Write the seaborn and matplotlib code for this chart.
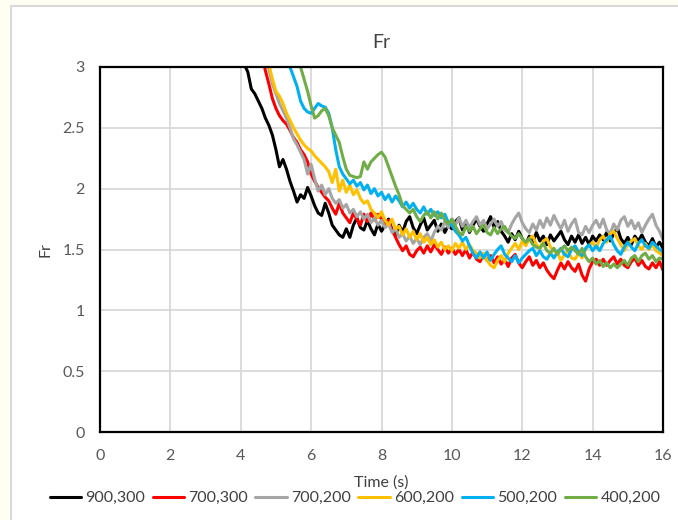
import numpy as np
import pandas as pd
import matplotlib
matplotlib.use("Agg")
import matplotlib.pyplot as plt
from matplotlib.patches import Rectangle
from matplotlib.ticker import FuncFormatter, MultipleLocator
import seaborn as sns

# Froude number histories, sampled every 0.1 s from each series' start time
STEP = 0.1

labels = ["900,300", "700,300", "700,200", "600,200", "500,200", "400,200"]
colors = ["#000000", "#FF0000", "#A5A5A5", "#FFC000", "#00B0F0", "#70AD47"]
start_times = [4.0, 4.6, 4.7, 4.7, 5.3, 5.6]

fr_900_300 = [
    3.10, 3.02, 2.96, 2.82, 2.78, 2.72, 2.66, 2.58, 2.52, 2.44,
    2.32, 2.18, 2.24, 2.16, 2.06, 1.98, 1.89, 1.95, 1.92, 2.01,
    1.94, 1.86, 1.80, 1.78, 1.88, 1.80, 1.70, 1.66, 1.62, 1.60,
    1.67, 1.60, 1.70, 1.76, 1.68,
    1.66, 1.74, 1.67, 1.62, 1.71, 1.65, 1.70, 1.75, 1.66, 1.62,
    1.70, 1.64, 1.73, 1.77, 1.68, 1.63, 1.70, 1.76, 1.66, 1.70,
    1.74, 1.65, 1.71, 1.64, 1.70, 1.67, 1.73, 1.76, 1.66, 1.72,
    1.64, 1.70, 1.75, 1.69, 1.65, 1.71, 1.77, 1.68, 1.73, 1.65,
    1.61, 1.56, 1.63, 1.58, 1.65, 1.59, 1.54, 1.61, 1.56, 1.64,
    1.57, 1.61, 1.54, 1.62, 1.57, 1.61, 1.65, 1.58, 1.54, 1.61,
    1.56, 1.62, 1.55, 1.60, 1.54, 1.61, 1.57, 1.62, 1.58, 1.64,
    1.57, 1.63, 1.68, 1.59, 1.55, 1.60, 1.54, 1.61, 1.57, 1.62,
    1.56, 1.53, 1.59, 1.52, 1.56, 1.51,
]

fr_700_300 = [
    3.10, 2.97, 2.86, 2.74, 2.66, 2.60, 2.56, 2.53, 2.48, 2.42,
    2.38, 2.32, 2.28, 2.22, 2.12, 2.06, 2.01, 1.97, 1.93, 1.90,
    1.84, 1.79, 1.88, 1.80, 1.76, 1.72, 1.80, 1.75, 1.70, 1.79,
    1.73, 1.80, 1.74, 1.79, 1.75, 1.70, 1.74,
    1.66, 1.60, 1.54, 1.49, 1.53, 1.46, 1.44, 1.49, 1.52, 1.47,
    1.53, 1.48, 1.54, 1.50, 1.46, 1.52, 1.47, 1.51, 1.46, 1.50,
    1.45, 1.50, 1.43, 1.48, 1.42, 1.40, 1.46, 1.41, 1.45, 1.39,
    1.44, 1.38, 1.42, 1.36, 1.43, 1.46, 1.39, 1.35, 1.40, 1.44,
    1.37, 1.41, 1.35, 1.39, 1.33, 1.29, 1.26, 1.33, 1.39, 1.34,
    1.40, 1.35, 1.32, 1.38, 1.29, 1.24, 1.34, 1.40, 1.42, 1.37,
    1.42, 1.37, 1.41, 1.44, 1.38, 1.42, 1.37, 1.35, 1.40, 1.43,
    1.37, 1.41, 1.36, 1.34, 1.39, 1.35, 1.40, 1.33,
]

fr_700_200 = [
    3.10, 2.98, 2.86, 2.78, 2.70, 2.64, 2.58, 2.50, 2.41, 2.36,
    2.30, 2.24, 2.12, 2.20, 2.08, 1.98, 2.03, 1.95, 2.00, 1.92,
    1.88, 1.91, 1.84, 1.87, 1.80,
    1.83, 1.77, 1.81, 1.75, 1.79, 1.72, 1.76, 1.70, 1.74, 1.68,
    1.71, 1.64, 1.67, 1.60, 1.63, 1.57, 1.61, 1.55, 1.59, 1.54,
    1.60, 1.63, 1.57, 1.64, 1.69, 1.66, 1.73, 1.68, 1.75, 1.70,
    1.76, 1.69, 1.74, 1.68, 1.73, 1.77, 1.70, 1.74, 1.67, 1.71,
    1.75, 1.69, 1.73, 1.66, 1.64, 1.71, 1.76, 1.80, 1.72, 1.67,
    1.64, 1.71, 1.66, 1.74, 1.68, 1.76, 1.70, 1.78, 1.72, 1.67,
    1.74, 1.65, 1.71, 1.75, 1.64, 1.62, 1.69, 1.64, 1.70, 1.74,
    1.68, 1.75, 1.66, 1.63, 1.71, 1.66, 1.74, 1.77, 1.69, 1.74,
    1.67, 1.72, 1.64, 1.70, 1.75, 1.79, 1.70, 1.65, 1.58,
]

fr_600_200 = [
    3.10, 3.02, 2.90, 2.80, 2.76, 2.70, 2.62, 2.56, 2.50, 2.45,
    2.40, 2.36, 2.33, 2.31, 2.27, 2.24, 2.21, 2.18, 2.14, 2.05,
    2.16, 1.98, 2.07, 1.97, 2.03, 1.95, 1.99, 1.92, 1.88, 1.90,
    1.83, 1.80, 1.76, 1.81, 1.74, 1.70, 1.75, 1.67, 1.69, 1.62,
    1.67, 1.60, 1.65, 1.58, 1.63, 1.56, 1.60, 1.54, 1.58, 1.52,
    1.56, 1.50, 1.53, 1.49, 1.55, 1.51, 1.56, 1.50, 1.54, 1.49,
    1.47, 1.43, 1.47, 1.41, 1.37, 1.35, 1.41, 1.45, 1.40, 1.47,
    1.51, 1.55, 1.50, 1.57, 1.53, 1.59, 1.61, 1.54, 1.51, 1.57,
    1.59, 1.52, 1.49, 1.47, 1.41, 1.46, 1.49, 1.43, 1.42, 1.47,
    1.43, 1.50, 1.53, 1.56, 1.51, 1.58, 1.61, 1.56, 1.63, 1.65,
    1.59, 1.54, 1.49, 1.54, 1.57, 1.59, 1.53, 1.50, 1.55, 1.50,
    1.54, 1.49, 1.47, 1.45,
]

fr_500_200 = [
    3.10, 3.00, 2.92, 2.84, 2.72, 2.66, 2.63, 2.62, 2.66, 2.70,
    2.68, 2.67, 2.62, 2.50, 2.32, 2.18, 2.12,
    2.08, 2.04, 2.07, 2.02, 2.05, 1.99, 2.03, 1.96, 2.00, 1.94,
    1.97, 1.91, 1.95, 1.89, 1.94, 1.90, 1.85, 1.89, 1.84, 1.88,
    1.83, 1.80, 1.85, 1.79, 1.83, 1.78, 1.81, 1.76, 1.79, 1.72,
    1.70, 1.65, 1.62, 1.57, 1.60, 1.53, 1.47, 1.43, 1.48, 1.43,
    1.48, 1.41, 1.46, 1.50, 1.53, 1.46, 1.43, 1.40, 1.45, 1.39,
    1.43, 1.46, 1.49, 1.51, 1.45, 1.49, 1.44, 1.42, 1.47, 1.43,
    1.48, 1.51, 1.46, 1.44, 1.50, 1.53, 1.48, 1.45, 1.51, 1.54,
    1.49, 1.53, 1.49, 1.55, 1.58, 1.61, 1.54, 1.49, 1.46, 1.52,
    1.56, 1.52, 1.49, 1.55, 1.58, 1.53, 1.51, 1.56, 1.53, 1.50,
    1.48,
]

fr_400_200 = [
    3.10, 3.00, 2.90, 2.80, 2.68, 2.58, 2.60, 2.64, 2.66, 2.60,
    2.50, 2.44, 2.38, 2.26, 2.16, 2.11, 2.10, 2.09, 2.10, 2.22,
    2.16, 2.22, 2.25, 2.28, 2.30, 2.26, 2.18, 2.10, 2.02, 1.95,
    1.86, 1.83, 1.80,
    1.83, 1.77, 1.73, 1.78, 1.81, 1.76, 1.81, 1.75, 1.80, 1.74,
    1.71, 1.75, 1.69, 1.64, 1.62, 1.69, 1.65, 1.69, 1.63, 1.67,
    1.70, 1.64, 1.62, 1.68, 1.63, 1.67, 1.69, 1.64, 1.61, 1.59,
    1.63, 1.59, 1.56, 1.59, 1.54, 1.52, 1.51, 1.55, 1.49, 1.47,
    1.51, 1.46, 1.50, 1.53, 1.49, 1.52, 1.49, 1.46, 1.51, 1.44,
    1.40, 1.43, 1.38, 1.41, 1.36, 1.39, 1.35, 1.38, 1.35, 1.38,
    1.41, 1.37, 1.43, 1.45, 1.40, 1.45, 1.47, 1.42, 1.45, 1.40,
    1.43, 1.42,
]

series_values = [fr_900_300, fr_700_300, fr_700_200, fr_600_200, fr_500_200, fr_400_200]

# Long-form table for seaborn
frames = []
for label, t0, vals in zip(labels, start_times, series_values):
    t = np.round(t0 + STEP * np.arange(len(vals)), 2)
    frames.append(pd.DataFrame({"Time (s)": t, "Fr": vals, "case": label}))
data = pd.concat(frames, ignore_index=True)

sns.set_theme(style="white")
plt.rcParams["font.family"] = ["Lato", "DejaVu Sans"]

W, H = 678, 520
fig = plt.figure(figsize=(W / 100, H / 100), dpi=100, facecolor="#FFFEF2")

# White chart panel with a light border
panel = Rectangle((11 / W, -0.01), 1.0, (H - 6) / H + 0.01, transform=fig.transFigure,
                  facecolor="white", edgecolor="#D9D9D9", linewidth=1.5, zorder=-10)
fig.patches.append(panel)

ax = fig.add_axes([100 / W, (H - 432) / H, (663 - 100) / W, (432 - 67) / H])
ax.set_facecolor("white")

sns.lineplot(data=data, x="Time (s)", y="Fr", hue="case", hue_order=labels,
             palette=dict(zip(labels, colors)), sort=False, estimator=None,
             linewidth=2.2, ax=ax, legend=True)

ax.set_xlim(0, 16)
ax.set_ylim(0, 3)
ax.xaxis.set_major_locator(MultipleLocator(2))
ax.yaxis.set_major_locator(MultipleLocator(0.5))
ax.yaxis.set_major_formatter(FuncFormatter(lambda v, p: f"{v:g}"))
ax.grid(True, color="#D9D9D9", linewidth=1.3)
ax.set_axisbelow(True)
for s in ax.spines.values():
    s.set_color("black")
    s.set_linewidth(1.6)
ax.tick_params(axis="both", length=0, labelsize=11.5, labelcolor="#595959")
ax.tick_params(axis="x", pad=12)
ax.tick_params(axis="y", pad=11)

ax.set_xlabel("Time (s)", fontsize=11.5, color="#404040", labelpad=9)
ax.set_ylabel("Fr", fontsize=11.5, color="#404040", labelpad=7)
ax.set_title("Fr", fontsize=14, color="#404040", pad=14)

handles, leg_labels = ax.get_legend_handles_labels()
ax.get_legend().remove()
fig.legend(handles, leg_labels, loc="center", bbox_to_anchor=(355 / W, (H - 498) / H),
           ncol=6, frameon=False, fontsize=11.5, handlelength=2.0, handletextpad=0.25,
           columnspacing=0.45, labelcolor="#404040")

fig.savefig("out.png", dpi=100, facecolor=fig.get_facecolor())
